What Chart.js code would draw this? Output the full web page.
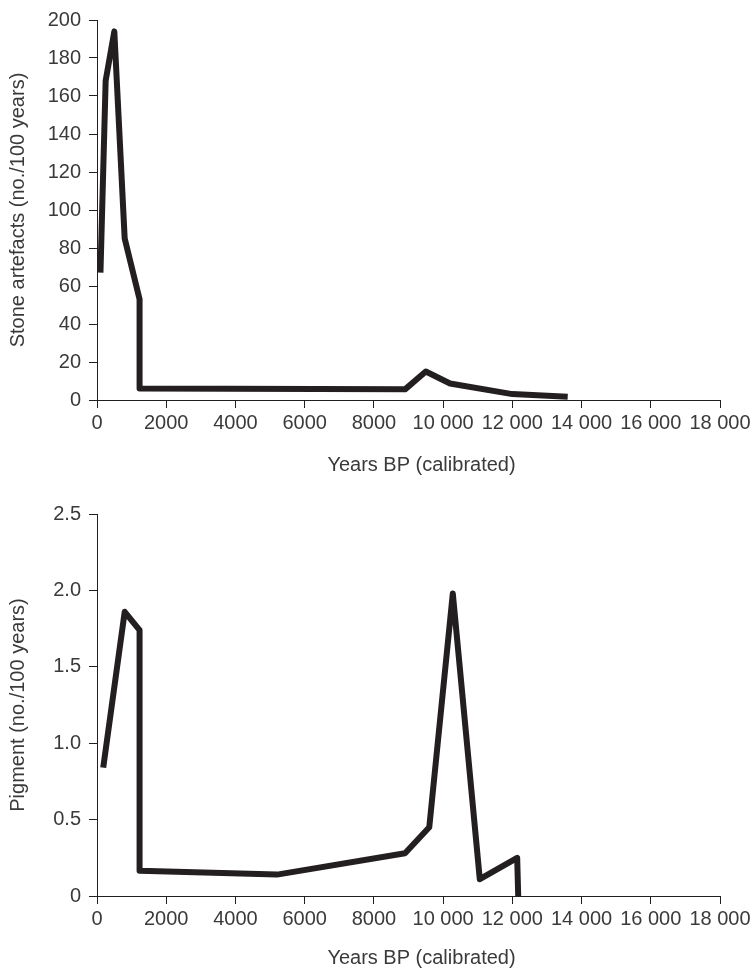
<!DOCTYPE html>
<html>
<head>
<meta charset="utf-8">
<script src="https://cdn.jsdelivr.net/npm/chart.js@4.4.1/dist/chart.umd.min.js"></script>
<style>
    html, body { margin: 0; padding: 0; background: #ffffff; }
    .panel { position: relative; width: 754px; }
    #stonePanel { height: 486px; }
    #pigmentPanel { height: 487px; }
</style>
</head>
<body>
<div class="panel" id="stonePanel"><canvas id="stoneChart"></canvas></div>
<div class="panel" id="pigmentPanel"><canvas id="pigmentChart"></canvas></div>

<script>
// STONE ARTEFACTS (no./100 years)
const stoneYears = [100, 250, 500, 800, 1230, 1230, 8900, 9500, 10200, 12000, 13600];
const stoneRate = [67, 168, 194, 85, 53, 6.1, 5.6, 15, 8.7, 3.1, 1.7];

// PIGMENT (no./100 years)
const pigmentYears = [180, 800, 1230, 1230, 5200, 8900, 9600, 10280, 11060, 12140, 12170];
const pigmentRate = [0.84, 1.86, 1.74, 0.165, 0.14, 0.28, 0.45, 1.98, 0.11, 0.25, 0];

// axis ranges / ticks
const yearRange = [0, 18000];
const yearStep = 2000;
const stoneRange = [0, 200];
const stoneStep = 20;
const pigmentRange = [0, 2.5];
const pigmentStep = 0.5;

const xTitle = 'Years BP (calibrated)';
const stoneTitle = 'Stone artefacts (no./100 years)';
const pigmentTitle = 'Pigment (no./100 years)';

const ink = '#231f20';
const textInk = '#3a3a3a';
const fontFamily = "'Liberation Sans', Arial, sans-serif";

Chart.defaults.font.family = fontFamily;
Chart.defaults.font.size = 20;
Chart.defaults.color = textInk;

// 10 000 style thousands for five-digit years
function formatYear(value) {
    if (value >= 10000) {
        return String(value).replace(/(\d{3})$/, ' $1');
    }
    return String(value);
}

// x title sits centred under the axis plus its labels
const xAxisTitle = {
    id: 'xAxisTitle',
    afterDraw(chart, args, opts) {
        const { ctx, chartArea } = chart;
        ctx.save();
        ctx.font = '20px ' + fontFamily;
        ctx.fillStyle = textInk;
        ctx.textAlign = 'center';
        ctx.textBaseline = 'middle';
        ctx.fillText(opts.text, (chartArea.left + chart.width) / 2 - 4, chartArea.bottom + opts.offset);
        ctx.restore();
    }
};

function makeChart(id, years, values, yRange, yStep, yTitle, yFormat, layout) {
    const ctx = document.getElementById(id);

    return new Chart(ctx, {
        type: 'line',
        data: {
            datasets: [
                {
                    data: years.map((x, i) => ({ x: x, y: values[i] })),
                    borderColor: ink,
                    borderWidth: 6,
                    borderJoinStyle: 'round',
                    borderCapStyle: 'butt',
                    pointRadius: 0,
                    tension: 0,
                    fill: false
                }
            ]
        },
        plugins: [xAxisTitle],
        options: {
            responsive: true,
            maintainAspectRatio: false,
            animation: false,
            layout: {
                padding: { top: layout.top, right: 34, bottom: 0, left: 0 }
            },
            plugins: {
                legend: { display: false },
                tooltip: { enabled: false },
                xAxisTitle: { text: xTitle, offset: layout.titleOffset }
            },
            scales: {
                x: {
                    type: 'linear',
                    min: yearRange[0],
                    max: yearRange[1],
                    afterFit(scale) { scale.height = layout.xHeight; },
                    border: { color: ink, width: 1 },
                    grid: {
                        drawOnChartArea: false,
                        color: ink,
                        tickLength: 8
                    },
                    ticks: {
                        stepSize: yearStep,
                        padding: 3,
                        maxRotation: 0,
                        callback: formatYear
                    }
                },
                y: {
                    min: yRange[0],
                    max: yRange[1],
                    afterFit(scale) { scale.width = 97; },
                    border: { color: ink, width: 1 },
                    grid: {
                        drawOnChartArea: false,
                        color: ink,
                        tickLength: 8
                    },
                    ticks: {
                        stepSize: yStep,
                        padding: 8,
                        callback: yFormat
                    },
                    title: {
                        display: true,
                        text: yTitle,
                        padding: { top: 6, bottom: 0 }
                    }
                }
            }
        }
    });
}

makeChart('stoneChart', stoneYears, stoneRate, stoneRange, stoneStep, stoneTitle,
    (v) => String(v),
    { top: 19, xHeight: 86, titleOffset: 65 });

makeChart('pigmentChart', pigmentYears, pigmentRate, pigmentRange, pigmentStep, pigmentTitle,
    (v) => (v === 0 ? '0' : v.toFixed(1)),
    { top: 28, xHeight: 77, titleOffset: 62 });
</script>
</body>
</html>
